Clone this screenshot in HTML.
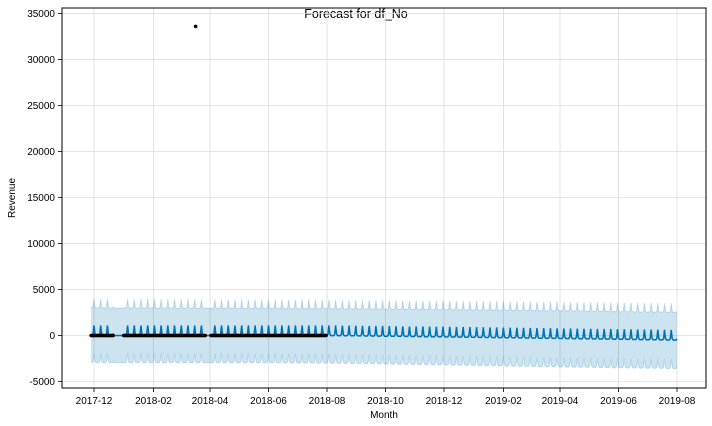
<!DOCTYPE html>
<html><head><meta charset="utf-8"><style>
body{margin:0;background:#fff;}
svg{display:block;font-family:"Liberation Sans","DejaVu Sans",sans-serif;}
</style></head><body>
<svg id="chart" width="712" height="426" viewBox="0 0 712 426">
<text x="356" y="18" text-anchor="middle" font-size="12.5" fill="#000">Forecast for df_No</text>
<text x="384" y="418" text-anchor="middle" font-size="10">Month</text>
<text transform="translate(15,198) rotate(-90)" text-anchor="middle" font-size="10">Revenue</text>
<g id="grid"></g>
<g id="band"></g>
<g id="fc"></g>
<g id="obs"></g>
<g id="axes"></g>
</svg>
<script>
// ---- data ----
const xTickLabels = ["2017-12","2018-02","2018-04","2018-06","2018-08","2018-10","2018-12","2019-02","2019-04","2019-06","2019-08"];
const yTickValues = [-5000,0,5000,10000,15000,20000,25000,30000,35000];
const forecastStart = "2017-11-28";
const forecastEnd = "2019-08-01";
const trendKnotDates = ["2017-11-28","2018-04-01","2018-08-01","2018-12-01","2019-04-01","2019-08-01"];
const trendKnotValues = [0, 0, 0, -150, -320, -500];
const upperOffsetKnots = [3000, 2950, 2900, 2950, 3000, 3000];
const lowerOffsetKnots = [-2950, -2950, -3000, -3050, -3100, -3100];
const weeklyPattern = [0, 0, 0, 0, 150, 1100, 150];
const bandSpikeScale = 0.9;
const flatRanges = [["2017-12-22","2017-12-31"],["2018-03-27","2018-04-02"]];
const observedRanges = [["2017-11-28","2017-12-21"],["2018-01-01","2018-03-27"],["2018-04-02","2018-07-31"]];
const observedValue = 0;
const outlierDate = "2018-03-17";
const outlierValue = 33600;

// ---- scales ----
const NS="http://www.w3.org/2000/svg";
const L=62,R=706,T=8,B=388;
const d0=Date.UTC(2017,11,1), DAY=86400000;
function dt(s){const p=s.split("-").map(Number);return Date.UTC(p[0],p[1]-1,p[2]||1);}
const xScale=t=>94+(t-d0)/DAY*(583/608);
const yScale=v=>335.5-v*(46/5000);
function mk(tag,attrs,parent){const e=document.createElementNS(NS,tag);for(const k in attrs)e.setAttribute(k,attrs[k]);parent.appendChild(e);return e;}
function interp(dates,vals,t){const ts=dates.map(dt);if(t<=ts[0])return vals[0];for(let i=1;i<ts.length;i++){if(t<=ts[i]){const f=(t-ts[i-1])/(ts[i]-ts[i-1]);return vals[i-1]+f*(vals[i]-vals[i-1]);}}return vals[vals.length-1];}
const inFlat=t=>flatRanges.some(r=>t>=dt(r[0])&&t<=dt(r[1]));

const grid=document.getElementById('grid'),axes=document.getElementById('axes');
xTickLabels.forEach(l=>{const x=xScale(dt(l));
 const g=mk('line',{x1:x,x2:x,y1:T,y2:B,stroke:'#dcdcdc','stroke-width':0.8},grid);
 
 mk('line',{x1:x,x2:x,y1:B,y2:B+4,stroke:'#000','stroke-width':0.8},axes);
 const t=mk('text',{x:x,y:B+16,'text-anchor':'middle','font-size':10},axes);t.textContent=l;
 
});
yTickValues.forEach(v=>{const y=yScale(v);
 const g=mk('line',{x1:L,x2:R,y1:y,y2:y,stroke:'#dcdcdc','stroke-width':0.8},grid);
 
 mk('line',{x1:L-4,x2:L,y1:y,y2:y,stroke:'#000','stroke-width':0.8},axes);
 const t=mk('text',{x:L-7,y:y+3.5,'text-anchor':'end','font-size':10},axes);t.textContent=v;
 
});
const fr=mk('rect',{x:L,y:T,width:R-L,height:B-T,fill:'none',stroke:'#000','stroke-width':1},axes);


// ---- forecast ----
const t0=dt(forecastStart),t1=dt(forecastEnd);
let up=[],lo=[],mid=[];
for(let t=t0;t<=t1;t+=DAY){
 const dow=new Date(t).getUTCDay();
 const w=inFlat(t)?0:weeklyPattern[dow];
 const tr=interp(trendKnotDates,trendKnotValues,t);
 const yh=tr+w;
 const x=xScale(t);
 mid.push([x,yScale(yh)]);
 up.push([x,yScale(tr+w*bandSpikeScale+interp(trendKnotDates,upperOffsetKnots,t))]);
 lo.push([x,yScale(tr+w*bandSpikeScale+interp(trendKnotDates,lowerOffsetKnots,t))]);
}
const pts=a=>a.map(p=>p[0].toFixed(1)+','+p[1].toFixed(1)).join(' ');
const band=document.getElementById('band');
const poly=mk('polygon',{points:pts(up)+' '+pts(lo.slice().reverse()),fill:'#0072B2','fill-opacity':0.2,stroke:'none'},band);

const ul=mk('polyline',{points:pts(up),fill:'none',stroke:'#0072B2','stroke-opacity':0.2,'stroke-width':1},band);

const ll=mk('polyline',{points:pts(lo),fill:'none',stroke:'#0072B2','stroke-opacity':0.2,'stroke-width':1},band);

const fl=mk('polyline',{points:pts(mid),fill:'none',stroke:'#0072B2','stroke-width':1.5},document.getElementById('fc'));


// ---- observations ----
const obs=document.getElementById('obs');
observedRanges.forEach(r=>{for(let t=dt(r[0]);t<=dt(r[1]);t+=DAY){
 const c=mk('circle',{cx:xScale(t),cy:yScale(observedValue),r:1.8,fill:'#000'},obs);
 
}});
const oc=mk('circle',{cx:xScale(dt(outlierDate)),cy:yScale(outlierValue),r:1.8,fill:'#000'},obs);

</script>
</body></html>
